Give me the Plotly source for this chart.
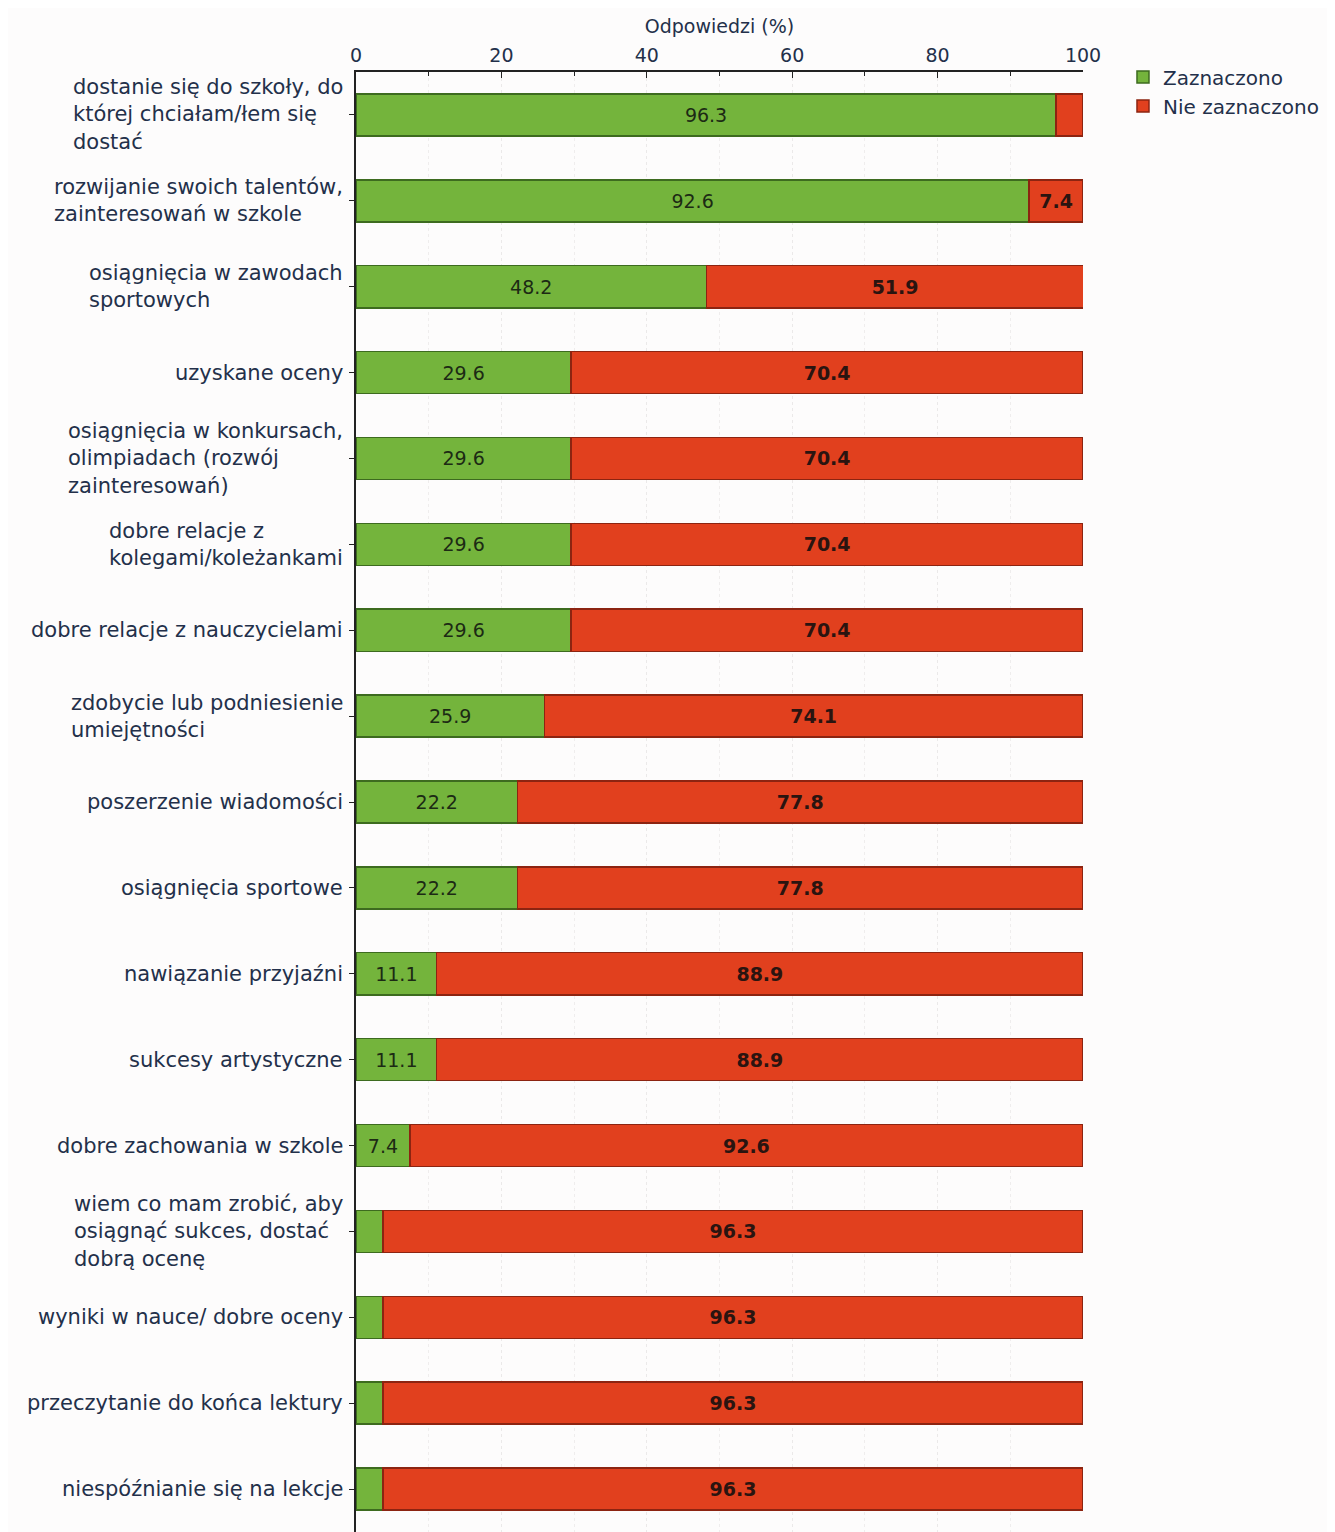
import plotly.graph_objects as go

categories = [
    "dostanie się do szkoły, do<br>której chciałam/łem się<br>dostać",
    "rozwijanie swoich talentów,<br>zainteresowań w szkole",
    "osiągnięcia w zawodach<br>sportowych",
    "uzyskane oceny",
    "osiągnięcia w konkursach,<br>olimpiadach (rozwój<br>zainteresowań)",
    "dobre relacje z<br>kolegami/koleżankami",
    "dobre relacje z nauczycielami",
    "zdobycie lub podniesienie<br>umiejętności",
    "poszerzenie wiadomości",
    "osiągnięcia sportowe",
    "nawiązanie przyjaźni",
    "sukcesy artystyczne",
    "dobre zachowania w szkole",
    "wiem co mam zrobić, aby<br>osiągnąć sukces, dostać<br>dobrą ocenę",
    "wyniki w nauce/ dobre oceny",
    "przeczytanie do końca lektury",
    "niespóźnianie się na lekcje",
]
zaznaczono = [96.3, 92.6, 48.2, 29.6, 29.6, 29.6, 29.6, 25.9, 22.2, 22.2, 11.1, 11.1, 7.4, 3.7, 3.7, 3.7, 3.7]
nie_zaznaczono = [3.7, 7.4, 51.9, 70.4, 70.4, 70.4, 70.4, 74.1, 77.8, 77.8, 88.9, 88.9, 92.6, 96.3, 96.3, 96.3, 96.3]
x_ticks = [0, 20, 40, 60, 80, 100]

ids = list(range(len(categories)))
FONT = "DejaVu Sans"
TXT = "#23304a"

def lab(v):
    return f"{v:.1f}" if v >= 5 else ""

fig = go.Figure()
fig.add_trace(go.Bar(
    y=ids, x=zaznaczono, orientation="h", name="Zaznaczono",
    marker=dict(color="#74b43c", line=dict(color="#3d6b1f", width=1.5)),
    text=[lab(v) for v in zaznaczono], textposition="inside", insidetextanchor="middle",
    textfont=dict(family=FONT, size=19, color="#1c2a14"), width=0.49,
))
fig.add_trace(go.Bar(
    y=ids, x=nie_zaznaczono, orientation="h", name="Nie zaznaczono",
    marker=dict(color="#e1401e", line=dict(color="#8c2411", width=1.5)),
    text=[lab(v) for v in nie_zaznaczono], textposition="inside", insidetextanchor="middle",
    textfont=dict(family=FONT, size=19, color="#2a1410", weight="bold"), width=0.49,
))

annotations = []
for i, c in enumerate(categories):
    annotations.append(dict(
        x=0, y=i, xref="x", yref="y", text=c, showarrow=False,
        xanchor="right", yanchor="middle", align="left", xshift=-11,
        font=dict(family=FONT, size=21, color=TXT),
    ))

fig.update_layout(
    width=1320, height=1524,
    barmode="stack", bargap=0.5,
    paper_bgcolor="#fdfcfc", plot_bgcolor="#fdfcfc",
    margin=dict(l=348, r=245, t=64, b=0),
    font=dict(family=FONT, size=19, color=TXT),
    showlegend=True,
    legend=dict(x=1.055, y=1.01, xanchor="left", yanchor="top", traceorder="normal",
                font=dict(family=FONT, size=20, color=TXT),
                bgcolor="rgba(0,0,0,0)", tracegroupgap=0),
    annotations=annotations,
    uniformtext=dict(mode="show", minsize=10),
)
fig.update_xaxes(
    range=[0, 100], side="top", tickvals=x_ticks, ticks="inside", ticklen=6,
    tickcolor="#222", showline=True, linecolor="#222", linewidth=2,
    title=dict(text="Odpowiedzi (%)", font=dict(family=FONT, size=19, color=TXT), standoff=6),
    tickfont=dict(family=FONT, size=19, color=TXT),
    showgrid=True, gridcolor="#ebe9e9", griddash="dot",
    minor=dict(dtick=10, tick0=0, ticks="inside", ticklen=4, tickcolor="#222", showgrid=True, gridcolor="#efeded", griddash="dot"),
    zeroline=False, fixedrange=True,
)
fig.update_yaxes(
    range=[16.5, -0.5], tickvals=ids, showticklabels=False, ticks="outside", ticklen=5,
    tickcolor="#222", showline=True, linecolor="#222", linewidth=2, showgrid=False, zeroline=False,
)

fig.write_html("out.html")
